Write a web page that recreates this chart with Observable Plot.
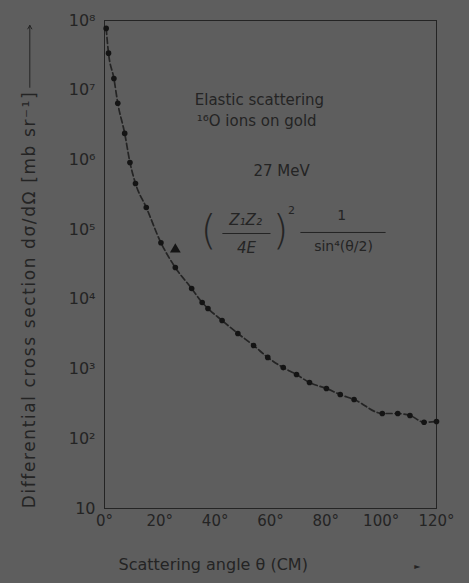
<!DOCTYPE html>
<html><head><meta charset="utf-8">
<script src="https://cdn.jsdelivr.net/npm/d3@7"></script>
<script src="https://cdn.jsdelivr.net/npm/@observablehq/plot@0.6"></script>
<style>
html,body{margin:0;padding:0;background:#5e5e5e;}
#chart svg{display:block;background:#5e5e5e;}
</style></head><body><div id="chart"></div>
<script>
// Measured data: scattering angle (deg, CM) and differential cross section (mb/sr)
const angleDeg = [0.6,1.45,3.4,4.8,7.3,9.2,11.2,15.1,20.4,25.6,31.5,35.3,37.4,42.5,48.2,53.9,59.0,64.6,69.4,74.1,80.2,85.2,90.2,100.4,106.0,110.4,115.5,120.0];
const crossSection = [7.7e7,3.4e7,1.47e7,6.5e6,2.4e6,9.2e5,4.6e5,2.08e5,6.5e4,2.86e4,1.43e4,9.0e3,7.4e3,4.97e3,3.24e3,2.18e3,1.47e3,1.05e3,836,641,526,431,366,231,230,216,173,177];
// the single triangle point
const triangleAngle = [25.6];
const triangleValue = [5.2e4];
// axis ticks
const xTicks = [0,20,40,60,80,100,120];
const yTicks = [10,1e2,1e3,1e4,1e5,1e6,1e7,1e8];
// annotation texts (placed in data coordinates)
const noteText = ["Elastic scattering","¹⁶O ions on gold","27 MeV"];
const noteAngle = [56,55,64];
const noteValue = [7.1e6,3.57e6,6.8e5];
const yLabel = "Differential cross section dσ/dΩ [mb sr⁻¹]";

const ink = "#242424";
const sup = s => String(s).split("").map(c => "⁰¹²³⁴⁵⁶⁷⁸⁹"[+c]).join("");
const pts = angleDeg.map((a,i) => ({a, v: crossSection[i]}));
const tri = triangleAngle.map((a,i) => ({a, v: triangleValue[i]}));
const notes = noteText.map((t,i) => ({t, a: noteAngle[i], v: noteValue[i]}));

const chart = Plot.plot({
  width: 469, height: 583,
  marginLeft: 104, marginRight: 33, marginTop: 20, marginBottom: 75,
  style: {background: "#5e5e5e", color: ink, fontFamily: "'DejaVu Sans', sans-serif", fontSize: "15px", overflow: "visible"},
  x: {domain: [0,120], ticks: xTicks, tickFormat: d => d + "°", label: null},
  y: {type: "log", domain: [10,1e8], ticks: yTicks, tickFormat: d => d === 10 ? "10" : "10" + sup(Math.round(Math.log10(d))), label: null},
  marks: [
    Plot.frame({stroke: ink, strokeWidth: 1}),
    Plot.axisX({ticks: xTicks, tickSize: 0, tickPadding: 7, fontSize: 15, label: null, tickFormat: d => d + "°"}),
    Plot.axisY({ticks: yTicks, tickSize: 0, tickPadding: 9, fontSize: 16, label: null,
      tickFormat: d => d === 10 ? "10" : "10" + sup(Math.round(Math.log10(d)))}),
    Plot.line(pts, {x: "a", y: "v", stroke: ink, strokeWidth: 1.7, strokeDasharray: "6,3", curve: "monotone-x"}),
    Plot.dot(pts, {x: "a", y: "v", r: 2.8, fill: "#141414", stroke: "none"}),
    Plot.dot(tri, {x: "a", y: "v", r: 4, symbol: "triangle", fill: "#141414", stroke: "none"}),
    Plot.text(notes, {x: "a", y: "v", text: "t", fontSize: 15, fill: ink}),
    // formula (Z1Z2/4E)^2 1/sin^4(θ/2)
    Plot.text(["("], {x: () => 37.6, y: () => 9.4e4, text: d => d, fontSize: 40, fill: ink, fontWeight: 100}),
    Plot.text([")"], {x: () => 63.6, y: () => 9.4e4, text: d => d, fontSize: 40, fill: ink, fontWeight: 100}),
    Plot.text(["Z₁Z₂"], {x: () => 51.0, y: () => 1.35e5, text: d => d, fontSize: 15, fontStyle: "italic", fill: ink}),
    Plot.text(["4E"], {x: () => 51.3, y: () => 5.5e4, text: d => d, fontSize: 15, fontStyle: "italic", fill: ink}),
    Plot.text(["2"], {x: () => 67.6, y: () => 1.9e5, text: d => d, fontSize: 11, fill: ink}),
    Plot.text(["1"], {x: () => 85.7, y: () => 1.6e5, text: d => d, fontSize: 14, fill: ink}),
    Plot.text(["sin⁴(θ/2)"], {x: () => 86.4, y: () => 5.7e4, text: d => d, fontSize: 14, fill: ink}),
    Plot.link([0], {x1: () => 42.6, x2: () => 60.0, y1: () => 8.8e4, y2: () => 8.8e4, stroke: ink, strokeWidth: 1}),
    Plot.link([0], {x1: () => 70.8, x2: () => 101.6, y1: () => 9.1e4, y2: () => 9.1e4, stroke: ink, strokeWidth: 1}),
    // axis titles
    Plot.text([yLabel], {frameAnchor: "left", textAnchor: "middle", text: d => d, rotate: -90, dx: -75, dy: 35, fontSize: 17, fill: ink}),
    Plot.arrow([0], {x1: () => -27, x2: () => -27, y1: () => 1.1e7, y2: () => 8.5e7, stroke: ink, strokeWidth: 1, headLength: 6}),
    Plot.text(["Scattering angle θ (CM)"], {frameAnchor: "bottom-left", text: d => d, textAnchor: "start", dx: 14, dy: 61, fontSize: 16, fill: ink}),
    Plot.text(["►"], {frameAnchor: "bottom-right", text: d => d, dx: -16, dy: 60, fontSize: 8, fill: ink})
  ]
});
d3.select(chart).selectAll("text").filter(function() { return this.textContent === yLabel; }).attr("letter-spacing", "1.6px");
document.getElementById("chart").appendChild(chart);
</script></body></html>
